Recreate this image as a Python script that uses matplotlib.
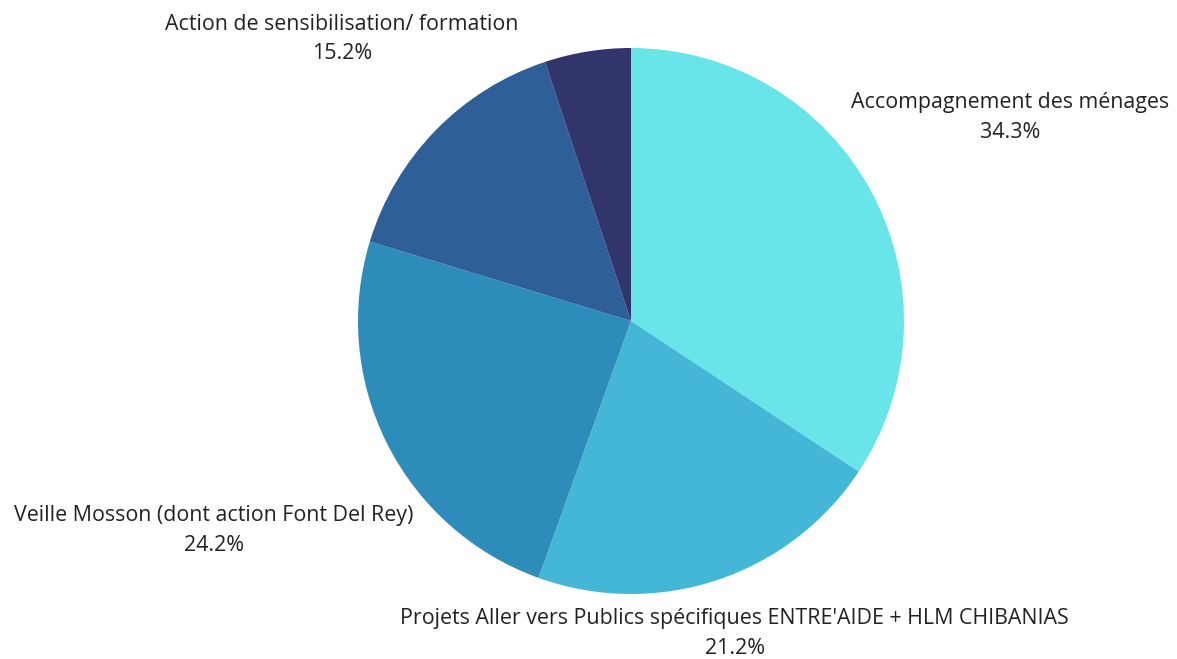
import matplotlib.pyplot as plt
import numpy as np

plt.rcParams['font.family'] = ['Open Sans', 'DejaVu Sans']

LABELS = ['Accompagnement des ménages',
          "Projets Aller vers Publics spécifiques ENTRE'AIDE + HLM CHIBANIAS",
          'Veille Mosson (dont action Font Del Rey)',
          'Action de sensibilisation/ formation',
          '']
VALUES = [34.3, 21.2, 24.2, 15.2, 5.1]
COLORS = ['#69e4e8', '#44b7d7', '#2e8cba', '#2e5f98', '#31356b']
# distance of each label from the centre, in pie radii
LABEL_DIST = [1.575, 1.205, 1.71, 1.48, 1.2]

fig = plt.figure(figsize=(11.77, 6.59), dpi=100)
ax = fig.add_axes([(631 - 273) / 1177, (659 - 594) / 659, 546 / 1177, 546 / 659])

wedges, _ = ax.pie(VALUES, colors=COLORS, startangle=90, counterclock=False,
                   radius=1, wedgeprops=dict(linewidth=0))

for w, lab, val, d in zip(wedges, LABELS, VALUES, LABEL_DIST):
    if not lab:
        continue
    mid = np.deg2rad((w.theta1 + w.theta2) / 2)
    ax.text(d * np.cos(mid), d * np.sin(mid), f'{lab}\n{val}%',
            ha='center', va='center', fontsize=15.4, color='#222222',
            linespacing=1.55, clip_on=False)

ax.set_xlim(-1, 1)
ax.set_ylim(-1, 1)
ax.set_aspect('equal')
ax.axis('off')

plt.savefig('out.png', dpi=100)
